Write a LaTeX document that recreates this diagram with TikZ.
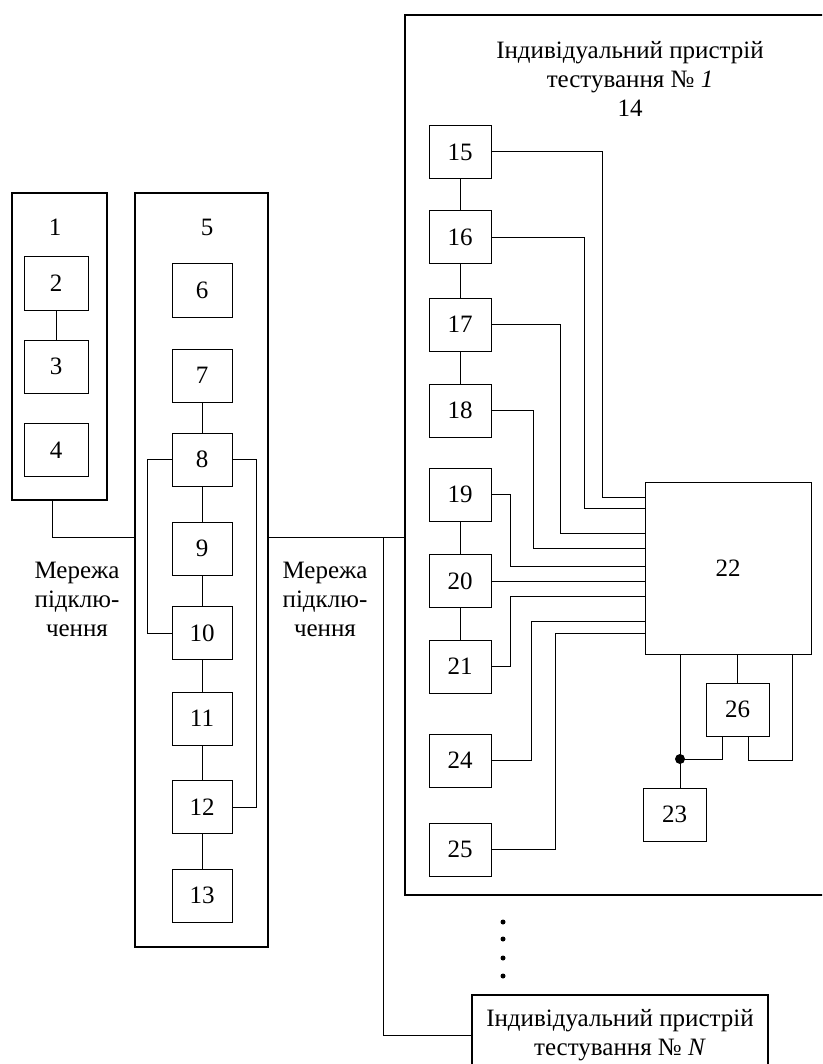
\documentclass[tikz,border=0pt]{standalone}
\usepackage{fontspec}
\setmainfont{Liberation Serif}
\tikzset{
	block/.style={draw, line width=1pt, minimum width=62pt, minimum height=53pt, inner sep=0pt},
	frame/.style={draw, line width=2pt, inner sep=0pt},
	wire/.style={line width=1pt},
}

\begin{document}
\begin{tikzpicture}[x=1pt, y=-1pt, font=\fontsize{25}{29}\selectfont]
	\useasboundingbox (0,0) rectangle (822,1064);
	\clip (0,0) rectangle (822,1064);
	% Frames:
	\node[frame, line width=2.4pt, minimum width=95pt, minimum height=307pt](F1) at (59.5,346.5){};
	\node[frame, line width=2.4pt, minimum width=133pt, minimum height=754pt](F5) at (201.5,570){};
	\node[frame, minimum width=425pt, minimum height=880pt](F14) at (617.5,455){};
	\node[frame, minimum width=296pt, minimum height=80pt, align=center](FN) at (620,1035){Індивідуальний пристрій\\тестування № \textit{N}};
	\node(L1) at (55,227){1};
	\node(L5) at (207,227){5};
	\node[align=center](L14) at (630,79){Індивідуальний пристрій\\тестування № \textit{1}\\14};
	\node[align=center](M1) at (77,599){Мережа\\підклю-\\чення};
	\node[align=center](M2) at (325,599){Мережа\\підклю-\\чення};
	% Blocks of 1 and 5:
	\node[block, minimum width=64pt](B2) at (56,283.5){2};
	\node[block, minimum width=64pt](B3) at (56,366.5){3};
	\node[block, minimum width=64pt](B4) at (56,450){4};
	\node[block, minimum width=60pt](B6) at (202,290.5){6};
	\node[block, minimum width=60pt](B7) at (202,375.5){7};
	\node[block, minimum width=60pt](B8) at (202,459.5){8};
	\node[block, minimum width=60pt](B9) at (202,548.5){9};
	\node[block, minimum width=60pt](B10) at (202,633){10};
	\node[block, minimum width=60pt](B11) at (202,718.5){11};
	\node[block, minimum width=60pt](B12) at (202,807){12};
	\node[block, minimum width=60pt](B13) at (202,895.5){13};
	% Blocks of 14:
	\node[block](B15) at (460,152){15};
	\node[block](B16) at (460,237.5){16};
	\node[block](B17) at (460,324.5){17};
	\node[block](B18) at (460,410.5){18};
	\node[block](B19) at (460,494.5){19};
	\node[block](B20) at (460,581){20};
	\node[block](B21) at (460,666.5){21};
	\node[block](B24) at (460,760.5){24};
	\node[block](B25) at (460,849.5){25};
	\node[block, minimum width=166pt, minimum height=172pt](B22) at (728,568){22};
	\node[block, minimum width=63pt](B23) at (674.5,814.5){23};
	\node[block, minimum width=63pt](B26) at (737.5,709.5){26};
	\coordinate (bus) at (383,537);
	\coordinate (dot) at (680,759);
	% Wires:
	\draw[wire] (B2) -- (B3);
	\draw[wire] (F1.south -| 52,0) |- (F5.west |- bus);
	\draw[wire] (F5.east |- bus) -- (F14.west |- bus);
	\draw[wire] (bus) |- (FN.west);
	\foreach \a/\b in {7/8, 8/9, 9/10, 10/11, 11/12, 12/13, 15/16, 16/17, 17/18, 19/20, 20/21}
		\draw[wire] (B\a) -- (B\b);
	\draw[wire] (B8.west) -- ++(-24,0) |- (B10.west);
	\draw[wire] (B8.east) -- ++(24,0) |- (B12.east);
	\foreach \s/\xc/\yi in {15/602/497, 16/584/508, 17/560/533, 18/533/548, 19/510/566, 21/510/596, 24/531/621, 25/555/633}
		\draw[wire] (B\s.east) -| (\xc,\yi) -- (B22.west |- 0,\yi);
	\draw[wire] (B20.east) -- (B22.west |- B20.east);
	\draw[wire] (B22.south -| dot) -- (B23.north -| dot);
	\fill (dot) circle (5pt);
	\draw[wire] (B22.south -| B26.north) -- (B26.north);
	\draw[wire] (B22.south -| 792,0) -- (792,760) -| (B26.south -| 748,0);
	\draw[wire] (B26.south -| 722,0) |- (dot);
	\foreach \y in {922, 939, 958, 976}
		\fill (503,\y) circle (2.5pt);
\end{tikzpicture}
\end{document}
